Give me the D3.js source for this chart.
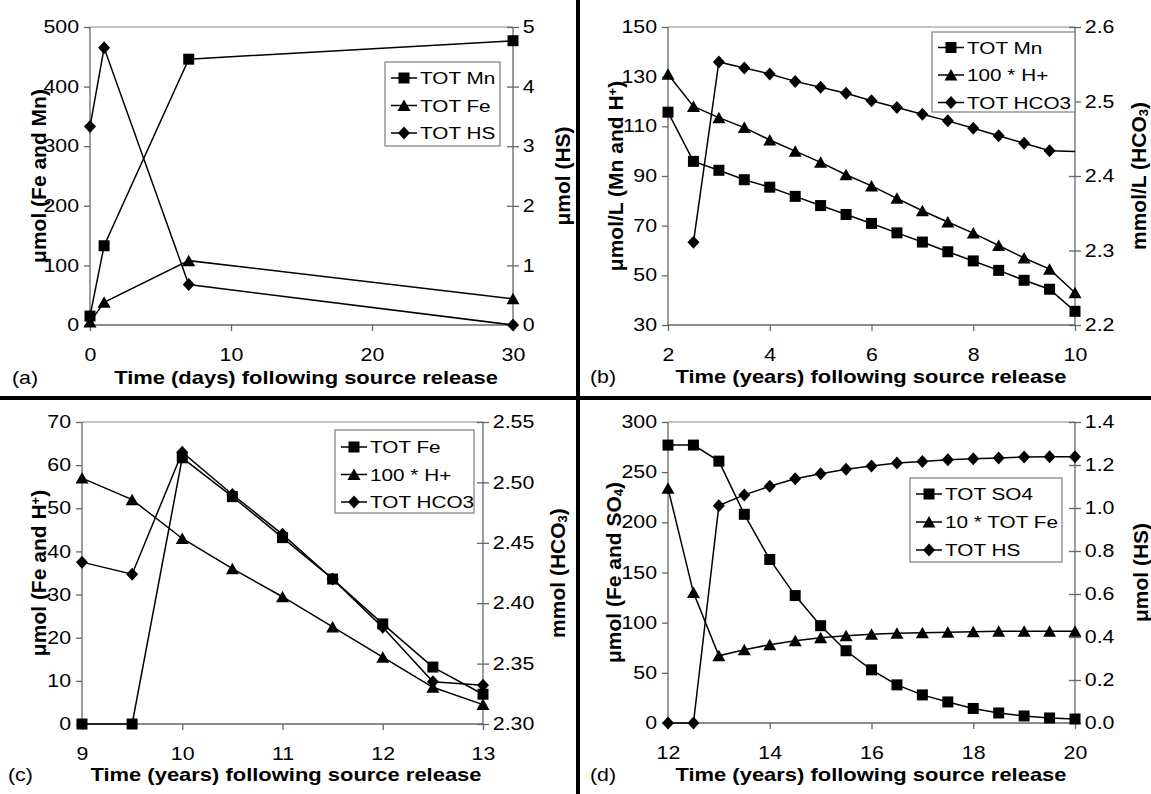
<!DOCTYPE html>
<html><head><meta charset="utf-8">
<script src="https://cdn.jsdelivr.net/npm/d3@7"></script>
<style>body{margin:0;background:#fff}svg{display:block}text{font-family:"Liberation Sans",Arial,sans-serif;fill:#000}</style>
</head><body><svg id="c" width="1151" height="794"></svg>
<script>
// ---------- data ----------
const aX = [0, 1, 7, 30];
const aMn = [15, 133, 446, 477];
const aFe = [5, 38, 108, 44];
const aHS = [3.33, 4.65, 0.68, 0.0];

const bX = [2, 2.5, 3, 3.5, 4, 4.5, 5, 5.5, 6, 6.5, 7, 7.5, 8, 8.5, 9, 9.5, 10];
const bMn = [115.7, 95.9, 92.3, 88.5, 85.5, 81.8, 78.1, 74.5, 70.9, 67.1, 63.4, 59.5, 55.8, 52.0, 48.0, 44.4, 35.5];
const bH = [131, 118, 113.5, 109.5, 104.5, 100, 95.5, 90.5, 86, 81, 76, 71.5, 67, 62, 57, 52.5, 43];
const bHCO3 = [null, 2.311, 2.553, 2.545, 2.537, 2.527, 2.519, 2.511, 2.501, 2.492, 2.483, 2.474, 2.464, 2.454, 2.444, 2.434, 2.433];

const cX = [9, 9.5, 10, 10.5, 11, 11.5, 12, 12.5, 13];
const cFe = [0, 0, 61.7, 52.7, 43.2, 33.6, 23.2, 13.2, 6.9];
const cH = [57, 52, 43, 36, 29.5, 22.5, 15.5, 8.5, 4.5];
const cHCO3 = [2.434, 2.424, 2.525, 2.490, 2.457, 2.420, 2.380, 2.335, 2.332];

const dX = [12, 12.5, 13, 13.5, 14, 14.5, 15, 15.5, 16, 16.5, 17, 17.5, 18, 18.5, 19, 19.5, 20];
const dSO4 = [277, 277, 261, 208, 163, 127, 97, 72, 53, 38, 28, 21, 14.5, 10, 7, 5, 4];
const dFe = [234, 130, 67, 73, 78, 82, 85, 87, 88.5, 89.5, 90, 90.5, 91, 91.5, 91.5, 91.5, 91.5];
const dHS = [0, 0, 1.011, 1.061, 1.101, 1.136, 1.159, 1.180, 1.195, 1.209, 1.216, 1.224, 1.229, 1.233, 1.237, 1.238, 1.238];

const aXTicks = [0, 10, 20, 30], aLTicks = [0, 100, 200, 300, 400, 500], aRTicks = [0, 1, 2, 3, 4, 5];
const bXTicks = [2, 4, 6, 8, 10], bLTicks = [30, 50, 70, 90, 110, 130, 150], bRTicks = [2.2, 2.3, 2.4, 2.5, 2.6];
const cXTicks = [9, 10, 11, 12, 13], cLTicks = [0, 10, 20, 30, 40, 50, 60, 70], cRTicks = [2.30, 2.35, 2.40, 2.45, 2.50, 2.55];
const dXTicks = [12, 14, 16, 18, 20], dLTicks = [0, 50, 100, 150, 200, 250, 300], dRTicks = [0, 0.2, 0.4, 0.6, 0.8, 1.0, 1.2, 1.4];

// ---------- layout ----------
const SX = 1.22;          // horizontal stretch of the original raster text
const TICK_FS = 17.5, TITLE_FS = 18, LEG_FS = 17, YTITLE_FS = 21;
const AXIS_COL = "#666";

const svg = d3.select("#c");
svg.append("rect").attr("width", 1151).attr("height", 794).attr("fill", "#fff");

const markers = {
  square: "M-5.5,-5.5H5.5V5.5H-5.5Z",
  triangle: "M0,-6L6.5,5.5H-6.5Z",
  diamond: "M0,-6.5L6,0L0,6.5L-6,0Z"
};

function drawPanel(p) {
  const g = svg.append("g");
  const x = d3.scaleLinear().domain(p.xDom).range([p.x0, p.x1]);
  const yl = d3.scaleLinear().domain(p.lDom).range([p.y1, p.y0]);
  const yr = d3.scaleLinear().domain(p.rDom).range([p.y1, p.y0]);

  // plot-area top border
  g.append("line").attr("x1", p.x0).attr("x2", p.x1).attr("y1", p.y0).attr("y2", p.y0)
    .attr("stroke", "#888").attr("stroke-width", 1.2);

  const ax = g.append("g").attr("transform", `translate(0,${p.y1})`)
    .call(d3.axisBottom(x).tickValues(p.xTicks).tickSize(6).tickPadding(18).tickFormat(d3.format("d")));
  const al = g.append("g").attr("transform", `translate(${p.x0},0)`)
    .call(d3.axisLeft(yl).tickValues(p.lTicks).tickSize(6).tickPadding(3).tickFormat(d3.format("d")));
  const ar = g.append("g").attr("transform", `translate(${p.x1},0)`)
    .call(d3.axisRight(yr).tickValues(p.rTicks).tickSize(6).tickPadding(2).tickFormat(d3.format(p.rFmt)));
  ar.selectAll(".tick line").attr("x1", -6).attr("x2", 6);
  [ax, al, ar].forEach(a => {
    a.select(".domain").attr("stroke", AXIS_COL).attr("stroke-width", 1.3);
    a.selectAll(".tick line").attr("stroke", AXIS_COL).attr("stroke-width", 1.3);
    a.selectAll(".tick text").attr("font-size", TICK_FS).attr("font-family", "Liberation Sans, Arial, sans-serif")
      .attr("fill", "#000").attr("transform", `scale(${SX},1)`);
  });
  ax.select(".domain").attr("d", `M${p.x0},0H${p.x1}`);
  al.select(".domain").attr("d", `M0,${p.y0}V${p.y1}`);
  ar.select(".domain").attr("d", `M0,${p.y0}V${p.y1}`);

  p.series.forEach(s => {
    const yS = s.axis === "r" ? yr : yl;
    const pts = p.xs.map((xv, i) => ({ x: xv, y: s.values[i] })).filter(d => d.y != null);
    const line = d3.line().x(d => x(d.x)).y(d => yS(d.y));
    g.append("path").attr("d", line(pts)).attr("fill", "none").attr("stroke", "#000").attr("stroke-width", 1.5);
    g.selectAll(null).data(pts.filter((d, i) => !(s.noMarkerLast && i === pts.length - 1))).enter()
      .append("path").attr("d", markers[s.marker])
      .attr("transform", d => `translate(${x(d.x)},${yS(d.y)})`).attr("fill", "#000");
  });

  const L = p.legend;
  g.append("rect").attr("x", L.x).attr("y", L.y).attr("width", L.w).attr("height", L.h)
    .attr("fill", "#fff").attr("stroke", "#888").attr("stroke-width", 1.3);
  p.series.forEach((s, i) => {
    const cy = L.y + L.first + i * L.step;
    g.append("line").attr("x1", L.x + 6).attr("x2", L.x + 32).attr("y1", cy).attr("y2", cy)
      .attr("stroke", "#000").attr("stroke-width", 1.5);
    g.append("path").attr("d", markers[s.marker]).attr("transform", `translate(${L.x + 19},${cy})`).attr("fill", "#000");
    g.append("text").attr("transform", `translate(${L.x + 35},${cy}) scale(${SX},1)`).attr("dy", "0.36em")
      .attr("font-size", LEG_FS).text(s.name);
  });

  g.append("text").attr("transform", `translate(${p.xTitleX},${p.y1 + p.xTitleDy}) scale(${SX},1)`)
    .attr("text-anchor", "middle").attr("dy", "0.36em").attr("font-weight", "bold").attr("font-size", TITLE_FS)
    .text(p.xTitle);
  g.append("text").attr("transform", `translate(${p.labX},${p.y1 + p.xTitleDy}) scale(${SX},1)`)
    .attr("dy", "0.36em").attr("font-size", TICK_FS).text(p.label);
  const yc = (p.y0 + p.y1) / 2;
  function ytitle(xc, parts) {
    const t = g.append("text").attr("transform", `translate(${xc},${yc}) rotate(-90)`)
      .attr("text-anchor", "middle").attr("dy", "0.36em").attr("font-weight", "bold").attr("font-size", YTITLE_FS);
    parts.forEach(pt => {
      const ts = t.append("tspan").text(pt.t);
      if (pt.sub) ts.attr("font-size", YTITLE_FS * 0.62).attr("baseline-shift", "-18%");
      if (pt.sup) ts.attr("font-size", YTITLE_FS * 0.62).attr("baseline-shift", "45%");
    });
  }
  ytitle(p.lTitleX, p.lTitle);
  ytitle(p.rTitleX, p.rTitle);
}

drawPanel({
  x0: 90, x1: 513, y0: 27, y1: 325,
  xDom: [0, 30], lDom: [0, 500], rDom: [0, 5], rFmt: "d",
  xTicks: aXTicks, lTicks: aLTicks, rTicks: aRTicks, xs: aX,
  series: [
    { name: "TOT Mn", values: aMn, marker: "square", axis: "l" },
    { name: "TOT Fe", values: aFe, marker: "triangle", axis: "l" },
    { name: "TOT HS", values: aHS, marker: "diamond", axis: "r" }
  ],
  legend: { x: 385, y: 62, w: 115, h: 84, first: 16, step: 27.5 },
  xTitle: "Time (days) following source release", xTitleX: 306, xTitleDy: 53,
  label: "(a)", labX: 12,
  lTitleX: 38, lTitle: [{ t: "\u03bcmol (Fe and Mn)" }],
  rTitleX: 562, rTitle: [{ t: "\u03bcmol (HS)" }]
});

drawPanel({
  x0: 668, x1: 1075, y0: 27, y1: 325,
  xDom: [2, 10], lDom: [30, 150], rDom: [2.2, 2.6], rFmt: ".1f",
  xTicks: bXTicks, lTicks: bLTicks, rTicks: bRTicks, xs: bX,
  series: [
    { name: "TOT Mn", values: bMn, marker: "square", axis: "l" },
    { name: "100 * H+", values: bH, marker: "triangle", axis: "l" },
    { name: "TOT HCO3", values: bHCO3, marker: "diamond", axis: "r", noMarkerLast: true }
  ],
  legend: { x: 932, y: 32, w: 143, h: 80, first: 15.5, step: 27.5 },
  xTitle: "Time (years) following source release", xTitleX: 871, xTitleDy: 52,
  label: "(b)", labX: 590,
  lTitleX: 615, lTitle: [{ t: "\u03bcmol/L (Mn and H" }, { t: "+", sup: true }, { t: ")" }],
  rTitleX: 1138, rTitle: [{ t: "mmol/L (HCO" }, { t: "3", sub: true }, { t: ")" }]
});

drawPanel({
  x0: 82, x1: 483, y0: 422, y1: 724,
  xDom: [9, 13], lDom: [0, 70], rDom: [2.30, 2.55], rFmt: ".2f",
  xTicks: cXTicks, lTicks: cLTicks, rTicks: cRTicks, xs: cX,
  series: [
    { name: "TOT Fe", values: cFe, marker: "square", axis: "l" },
    { name: "100 * H+", values: cH, marker: "triangle", axis: "l" },
    { name: "TOT HCO3", values: cHCO3, marker: "diamond", axis: "r" }
  ],
  legend: { x: 335, y: 430, w: 139, h: 83, first: 17, step: 27.5 },
  xTitle: "Time (years) following source release", xTitleX: 286, xTitleDy: 51,
  label: "(c)", labX: 8,
  lTitleX: 38, lTitle: [{ t: "\u03bcmol (Fe and H" }, { t: "+", sup: true }, { t: ")" }],
  rTitleX: 557, rTitle: [{ t: "mmol (HCO" }, { t: "3", sub: true }, { t: ")" }]
});

drawPanel({
  x0: 668, x1: 1075, y0: 422, y1: 723,
  xDom: [12, 20], lDom: [0, 300], rDom: [0, 1.4], rFmt: ".1f",
  xTicks: dXTicks, lTicks: dLTicks, rTicks: dRTicks, xs: dX,
  series: [
    { name: "TOT SO4", values: dSO4, marker: "square", axis: "l" },
    { name: "10 * TOT Fe", values: dFe, marker: "triangle", axis: "l" },
    { name: "TOT HS", values: dHS, marker: "diamond", axis: "r" }
  ],
  legend: { x: 910, y: 478, w: 152, h: 84, first: 16, step: 28 },
  xTitle: "Time (years) following source release", xTitleX: 871, xTitleDy: 52,
  label: "(d)", labX: 590,
  lTitleX: 613, lTitle: [{ t: "\u03bcmol (Fe and SO" }, { t: "4", sub: true }, { t: ")" }],
  rTitleX: 1140, rTitle: [{ t: "\u03bcmol (HS)" }]
});

svg.append("line").attr("x1", 578).attr("x2", 578).attr("y1", 0).attr("y2", 794).attr("stroke", "#000").attr("stroke-width", 4);
svg.append("line").attr("x1", 0).attr("x2", 1151).attr("y1", 398).attr("y2", 398).attr("stroke", "#000").attr("stroke-width", 4);
</script></body></html>
